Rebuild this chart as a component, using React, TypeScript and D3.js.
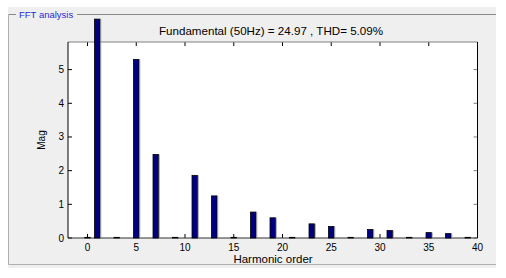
import React from "react";
import * as d3 from "d3";

const harmonics = [0, 1, 3, 5, 7, 9, 11, 13, 15, 17, 19, 21, 23, 25, 27, 29, 31, 33, 35, 37, 39];
const magnitudes = [0.02, 6.5, 0.02, 5.3, 2.48, 0.02, 1.86, 1.25, 0.02, 0.77, 0.6, 0.02, 0.42, 0.34, 0.02, 0.25, 0.22, 0.02, 0.16, 0.13, 0.02];
const xTicks = [0, 5, 10, 15, 20, 25, 30, 35, 40];
const yTicks = [0, 1, 2, 3, 4, 5];
const panelTitle = "FFT analysis";
const chartTitle = "Fundamental (50Hz) = 24.97 , THD= 5.09%";
const xLabel = "Harmonic order";
const yLabel = "Mag";

export default function App() {
  const W = 506, H = 278;
  const left = 68, right = 477.5, top = 42, bottom = 238;
  const x = d3.scaleLinear().domain([-2, 40]).range([left, right]);
  const y = d3.scaleLinear().domain([0, 5.82]).range([bottom, top]);
  const bw = 0.56 * (x(1) - x(0));
  const font = "Arial, 'Liberation Sans', sans-serif";
  return (
    <svg width={W} height={H} style={{ position: "absolute", left: 0, top: 0 }} fontFamily={font}>
      <rect x={0} y={0} width={W} height={H} fill="#ffffff" />
      <rect x={8} y={7} width={488} height={261} fill="#efefef" />
      {/* panel border */}
      <line x1={8.5} y1={14.5} x2={16} y2={14.5} stroke="#8a8a8a" />
      <line x1={77} y1={14.5} x2={496} y2={14.5} stroke="#8a8a8a" />
      <line x1={8.5} y1={14.5} x2={8.5} y2={264.5} stroke="#b0b0b0" />
      <line x1={8.5} y1={264.5} x2={496} y2={264.5} stroke="#b0b0b0" />
      <text x={19} y={17.5} fontSize={9.5} fill="#2a2ad8">{panelTitle}</text>
      {/* axes */}
      <rect x={left} y={top} width={right - left} height={bottom - top} fill="#ffffff" />
      <text x={271} y={35} fontSize={11.6} textAnchor="middle" fill="#000">{chartTitle}</text>
      {xTicks.map((t) => (
        <g key={"x" + t}>
          <line x1={x(t)} x2={x(t)} y1={bottom} y2={bottom - 4} stroke="#000" />
          <line x1={x(t)} x2={x(t)} y1={top} y2={top + 4} stroke="#000" />
          <text x={x(t)} y={250.5} fontSize={10} textAnchor="middle" fill="#000">{t}</text>
        </g>
      ))}
      {yTicks.map((t) => (
        <g key={"y" + t}>
          <line x1={left} x2={left + 4} y1={y(t)} y2={y(t)} stroke="#000" />
          <line x1={right} x2={right - 4} y1={y(t)} y2={y(t)} stroke="#808080" />
          <text x={64} y={y(t) + 3.5} fontSize={10} textAnchor="end" fill="#000">{t}</text>
        </g>
      ))}
      <line x1={left} x2={right} y1={top} y2={top} stroke="#808080" />
      <line x1={left} x2={right} y1={bottom} y2={bottom} stroke="#303030" />
      <line x1={left} x2={left} y1={top} y2={bottom} stroke="#000" />
      <line x1={right} x2={right} y1={top} y2={bottom} stroke="#000" />
      {harmonics.map((h, i) => {
        const yv = y(magnitudes[i]);
        const hgt = Math.max(bottom - yv, 0.6);
        return (
          <g key={"b" + h}>
            <rect x={x(h) - bw / 2} y={bottom - hgt} width={bw} height={hgt} fill="#000080" stroke="#000" strokeWidth={0.8} />
            <line x1={x(h) + bw / 2 + 0.8} x2={x(h) + bw / 2 + 0.8} y1={bottom - hgt} y2={bottom} stroke="#888" strokeWidth={0.8} />
          </g>
        );
      })}
      <text x={273} y={263} fontSize={11.5} textAnchor="middle" fill="#000">{xLabel}</text>
      <text transform={`translate(45, ${(top + bottom) / 2}) rotate(-90)`} fontSize={10} textAnchor="middle" fill="#000">{yLabel}</text>
    </svg>
  );
}
